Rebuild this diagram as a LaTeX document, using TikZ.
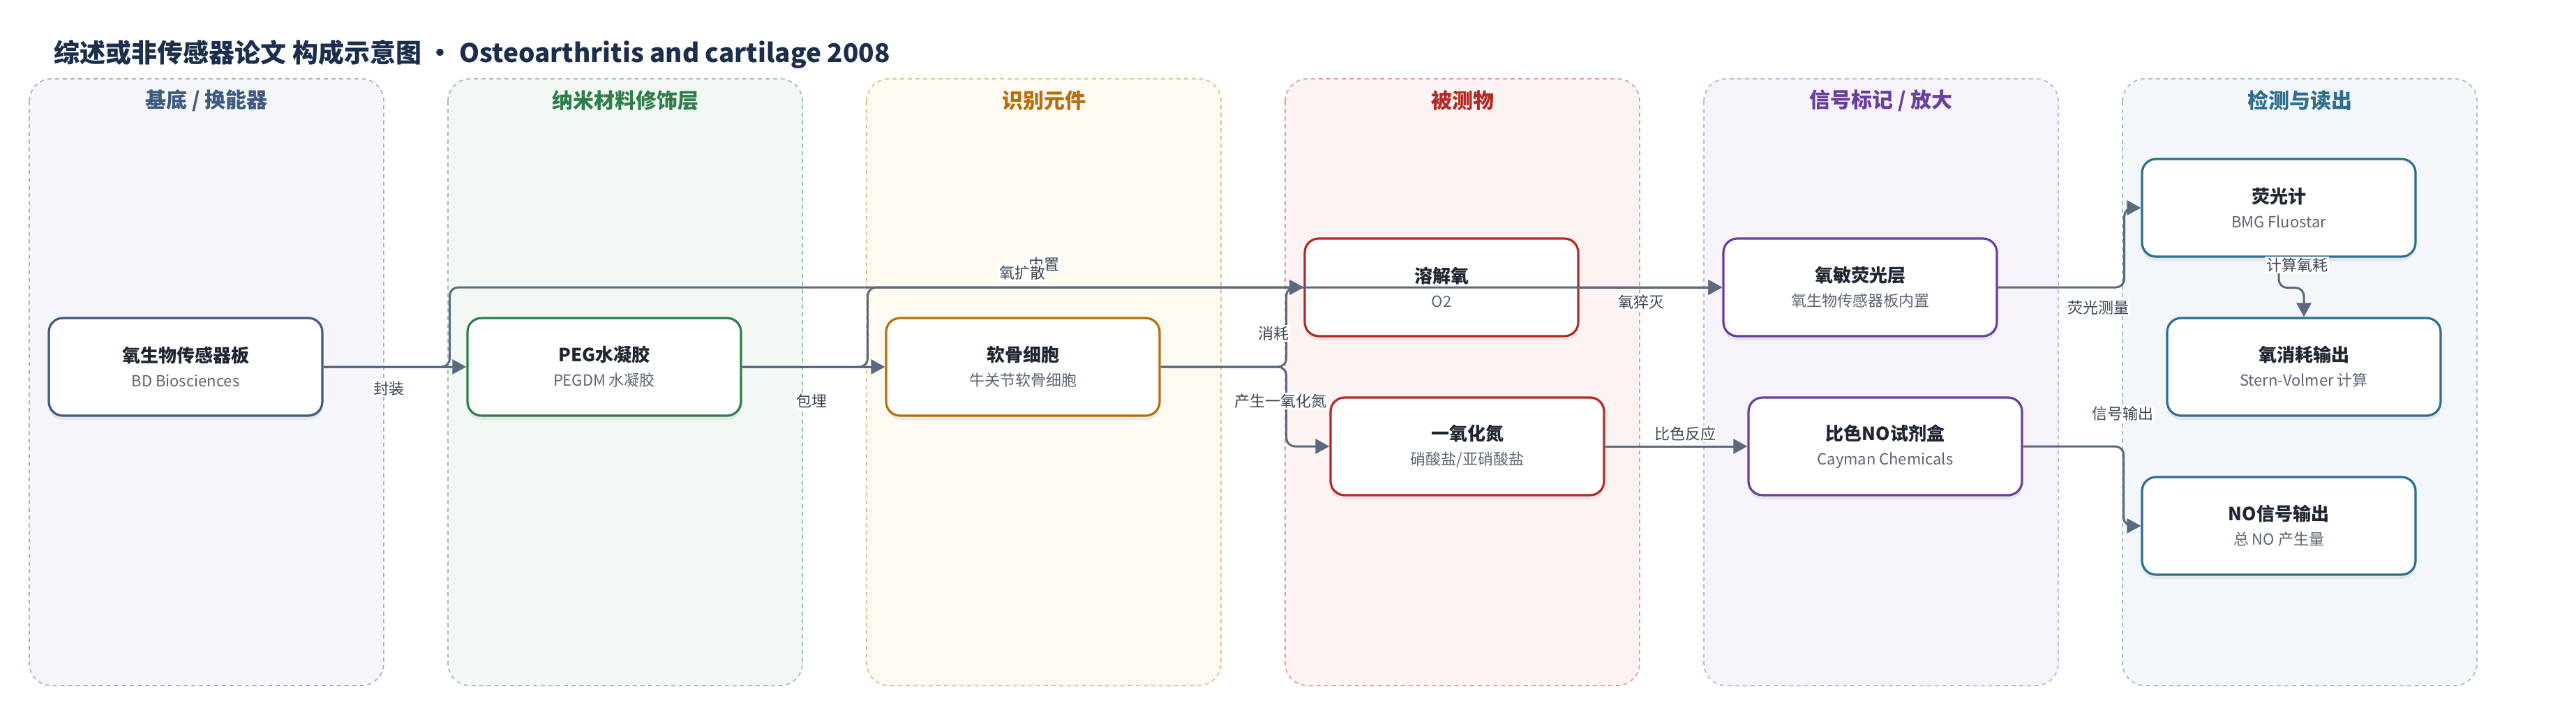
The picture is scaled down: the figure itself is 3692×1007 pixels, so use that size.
\documentclass[tikz,border=0pt]{standalone}
\usepackage{fontspec}
\setmainfont{Noto Sans CJK SC}
\usepackage{tikz}
\usetikzlibrary{arrows.meta,shadows}

\definecolor{titlec}{HTML}{1B2E4B}
\definecolor{edgec}{HTML}{596A80}
\definecolor{lblc}{HTML}{3C4656}
\definecolor{boxtc}{HTML}{1F2633}
\definecolor{subc}{HTML}{5B6573}
% lane colours: fill / border / heading+box
\definecolor{laneAf}{HTML}{F5F6FA}\definecolor{laneAb}{HTML}{A7B4C6}\definecolor{laneAh}{HTML}{3F5A80}
\definecolor{laneBf}{HTML}{F2F8F4}\definecolor{laneBb}{HTML}{9CC8A9}\definecolor{laneBh}{HTML}{2E7D4A}
\definecolor{laneCf}{HTML}{FEF9F1}\definecolor{laneCb}{HTML}{E6C18E}\definecolor{laneCh}{HTML}{B5700D}
\definecolor{laneDf}{HTML}{FDF3F3}\definecolor{laneDb}{HTML}{E49E9A}\definecolor{laneDh}{HTML}{B52A24}
\definecolor{laneEf}{HTML}{F7F3FB}\definecolor{laneEb}{HTML}{C8B3E2}\definecolor{laneEh}{HTML}{6A3D9E}
\definecolor{laneFf}{HTML}{F3F7F9}\definecolor{laneFb}{HTML}{A4C2CE}\definecolor{laneFh}{HTML}{2E6E8E}

\tikzset{
  lane/.style={dash pattern=on 3pt off 2.5pt, line width=0.9pt, rounded corners=16pt},
  lanehead/.style={inner sep=0.75pt, font=\bfseries\fontsize{15}{18}\selectfont},
  stagebox/.style={draw=#1, fill=white, line width=1.6pt, rounded corners=10pt,
    minimum width=196pt, minimum height=70pt, align=center, inner sep=2pt,
    drop shadow={opacity=0.13, shadow xshift=0pt, shadow yshift=-3pt},
    text=subc, font=\fontsize{11}{17.5}\selectfont},
  flow/.style={draw=edgec, line width=1.5pt, rounded corners=6pt,
    -{Triangle[length=10pt,width=10.5pt]}},
  elabel/.style={fill=white, inner sep=1pt, text=lblc, font=\fontsize{11}{13}\selectfont}
}
\newcommand{\boxtitle}[1]{{\bfseries\color{boxtc}\fontsize{13}{17.5}\selectfont #1}}

\begin{document}
\begin{tikzpicture}[x=0.5pt,y=0.5pt,yscale=-1,xscale=1]
    \useasboundingbox (0,0) rectangle (3692,1007);

    %Shape: Lanes
    \draw [lane, draw=laneAb, fill=laneAf] (42,113) rectangle (550,983);
    \draw [lane, draw=laneBb, fill=laneBf] (642,113) rectangle (1150,983);
    \draw [lane, draw=laneCb, fill=laneCf] (1242,113) rectangle (1750,983);
    \draw [lane, draw=laneDb, fill=laneDf] (1842,113) rectangle (2350,983);
    \draw [lane, draw=laneEb, fill=laneEf] (2442,113) rectangle (2950,983);
    \draw [lane, draw=laneFb, fill=laneFf] (3042,113) rectangle (3550,983);

    % Text Node
    \draw (76,78) node [anchor=west][inner sep=0.75pt, text=titlec, font=\bfseries\fontsize{18.5}{22}\selectfont] (title) {综述或非传感器论文 构成示意图 • Osteoarthritis and cartilage 2008};
    % Text Node
    \draw (296,144) node [lanehead, text=laneAh] (headA) {基底 / 换能器};
    % Text Node
    \draw (896,144) node [lanehead, text=laneBh] (headB) {纳米材料修饰层};
    % Text Node
    \draw (1496,144) node [lanehead, text=laneCh] (headC) {识别元件};
    % Text Node
    \draw (2096,144) node [lanehead, text=laneDh] (headD) {被测物};
    % Text Node
    \draw (2696,144) node [lanehead, text=laneEh] (headE) {信号标记 / 放大};
    % Text Node
    \draw (3296,144) node [lanehead, text=laneFh] (headF) {检测与读出};

    %Shape: Boxes
    \node [stagebox=laneAh] (sensor) at (266,526) {\boxtitle{氧生物传感器板}\\BD Biosciences};
    \node [stagebox=laneBh] (peg) at (866,526) {\boxtitle{PEG水凝胶}\\PEGDM 水凝胶};
    \node [stagebox=laneCh] (chondro) at (1466,526) {\boxtitle{软骨细胞}\\牛关节软骨细胞};
    \node [stagebox=laneDh] (dissO) at (2066,412) {\boxtitle{溶解氧}\\O2};
    \node [stagebox=laneDh] (nitric) at (2103,640) {\boxtitle{一氧化氮}\\硝酸盐/亚硝酸盐};
    \node [stagebox=laneEh] (layer) at (2666,412) {\boxtitle{氧敏荧光层}\\氧生物传感器板内置};
    \node [stagebox=laneEh] (kit) at (2702,640) {\boxtitle{比色NO试剂盒}\\Cayman Chemicals};
    \node [stagebox=laneFh] (fluor) at (3266,298) {\boxtitle{荧光计}\\BMG Fluostar};
    \node [stagebox=laneFh] (oxout) at (3302,526) {\boxtitle{氧消耗输出}\\Stern-Volmer 计算};
    \node [stagebox=laneFh] (noout) at (3266,754) {\boxtitle{NO信号输出}\\总 NO 产生量};

    %Straight Lines
    \draw [flow] (sensor) -- (peg);
    \draw [flow] (sensor.east) -- ++(181,0) |- (layer.west);
    \draw [flow] (peg) -- (chondro);
    \draw [flow] (peg.east) -- ++(180,0) |- (dissO.west);
    \draw [flow] (chondro.east) -- ++(180,0) |- (dissO.west);
    \draw [flow] (chondro.east) -- ++(180,0) |- (nitric.west);
    \draw [flow] (dissO) -- (layer);
    \draw [flow] (nitric) -- (kit);
    \draw [flow] (layer.east) -- ++(181,0) |- (fluor.west);
    \draw [flow] (kit.east) -- ++(144,0) |- (noout.west);
    %Curve Lines
    \draw [flow] (fluor.south) -- ++(0,43) -| (oxout.north);

    % Text Node
    \draw (557,557) node [elabel] (lbSeal) {封装};
    % Text Node
    \draw (1496,379) node [elabel] (lbBuilt) {内置};
    % Text Node
    \draw (1465,391) node [elabel] (lbDiff) {氧扩散};
    % Text Node
    \draw (1163,575) node [elabel] (lbEmbed) {包埋};
    % Text Node
    \draw (1825,478) node [elabel] (lbUse) {消耗};
    % Text Node
    \draw (1835,575) node [elabel] (lbMakeNO) {产生一氧化氮};
    % Text Node
    \draw (2352,433) node [elabel] (lbQuench) {氧猝灭};
    % Text Node
    \draw (2415,622) node [elabel] (lbColor) {比色反应};
    % Text Node
    \draw (3007,441) node [elabel] (lbFluo) {荧光测量};
    % Text Node
    \draw (3292,380) node [elabel] (lbCalc) {计算氧耗};
    % Text Node
    \draw (3042,593) node [elabel] (lbSignal) {信号输出};

\end{tikzpicture}
\end{document}
